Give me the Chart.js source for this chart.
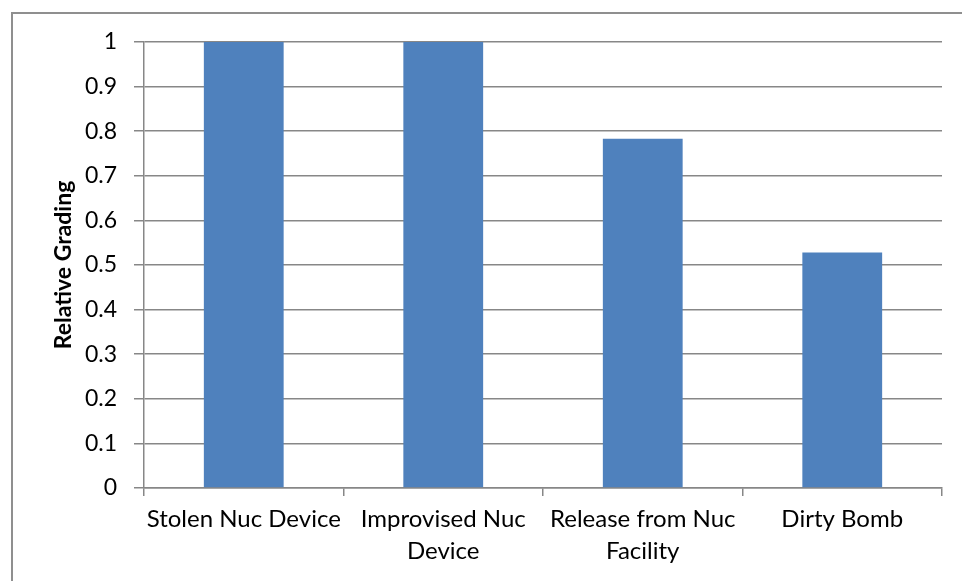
<!DOCTYPE html>
<html>
<head>
<meta charset="utf-8">
<script src="https://cdn.jsdelivr.net/npm/chart.js@4/dist/chart.umd.min.js"></script>
<style>
  html, body { margin: 0; padding: 0; background: #fff; overflow: hidden; }
  #wrap { position: relative; width: 962px; height: 581px; overflow: hidden; }
  #frame { position: absolute; left: 11px; top: 12px; width: 1000px; height: 1000px;
           border: 2px solid #8f8f8f; box-sizing: border-box; pointer-events: none; }
  canvas { position: absolute; left: 0; top: 0; }
</style>
</head>
<body>
<div id="wrap">
  <div id="frame"></div>
  <canvas id="chart" width="962" height="581"></canvas>
</div>
<script>
// Threat scenarios and their relative grading
const categories = [
  'Stolen Nuc Device',
  ['Improvised Nuc', 'Device'],
  ['Release from Nuc', 'Facility'],
  'Dirty Bomb'
];
const gradingValues = [1, 1, 0.783, 0.528];
const yTickValues = [0, 0.1, 0.2, 0.3, 0.4, 0.5, 0.6, 0.7, 0.8, 0.9, 1];

const FONT = 'Lato, "Open Sans", sans-serif';
const GRID = '#878787';

new Chart(document.getElementById('chart'), {
  type: 'bar',
  data: {
    labels: categories,
    datasets: [{
      label: 'Relative Grading',
      data: gradingValues,
      backgroundColor: '#4F81BD',
      borderWidth: 0,
      barPercentage: 0.4,
      categoryPercentage: 1.0
    }]
  },
  options: {
    responsive: false,
    animation: false,
    events: [],
    layout: { padding: { left: 0, top: 42, right: 20, bottom: 0 } },
    plugins: { legend: { display: false }, tooltip: { enabled: false } },
    scales: {
      x: {
        offset: true,
        grid: { offset: true, drawOnChartArea: false, drawTicks: true, tickLength: 8, color: GRID, lineWidth: 1.5 },
        border: { display: true, color: GRID, width: 1.5 },
        ticks: {
          color: '#000', padding: 8, maxRotation: 0, autoSkip: false,
          font: { family: FONT, size: 24, lineHeight: 1.3 }
        },
        afterFit: (scale) => { scale.height = 93; }
      },
      y: {
        min: 0, max: 1,
        afterBuildTicks: (scale) => { scale.ticks = yTickValues.map(v => ({ value: v })); },
        grid: { color: GRID, lineWidth: 1.5, drawTicks: true, tickLength: 10 },
        border: { display: true, color: GRID, width: 1.5 },
        ticks: {
          color: '#000', padding: 17,
          font: { family: FONT, size: 23 },
          callback: (v) => String(Number(v.toFixed(1)))
        },
        title: {
          display: true, text: 'Relative Grading', color: '#000',
          font: { family: FONT, size: 23, weight: 'bold' },
          padding: { top: 50, bottom: 0 }
        },
        afterFit: (scale) => { scale.width = 144; }
      }
    }
  }
});
</script>
</body>
</html>
